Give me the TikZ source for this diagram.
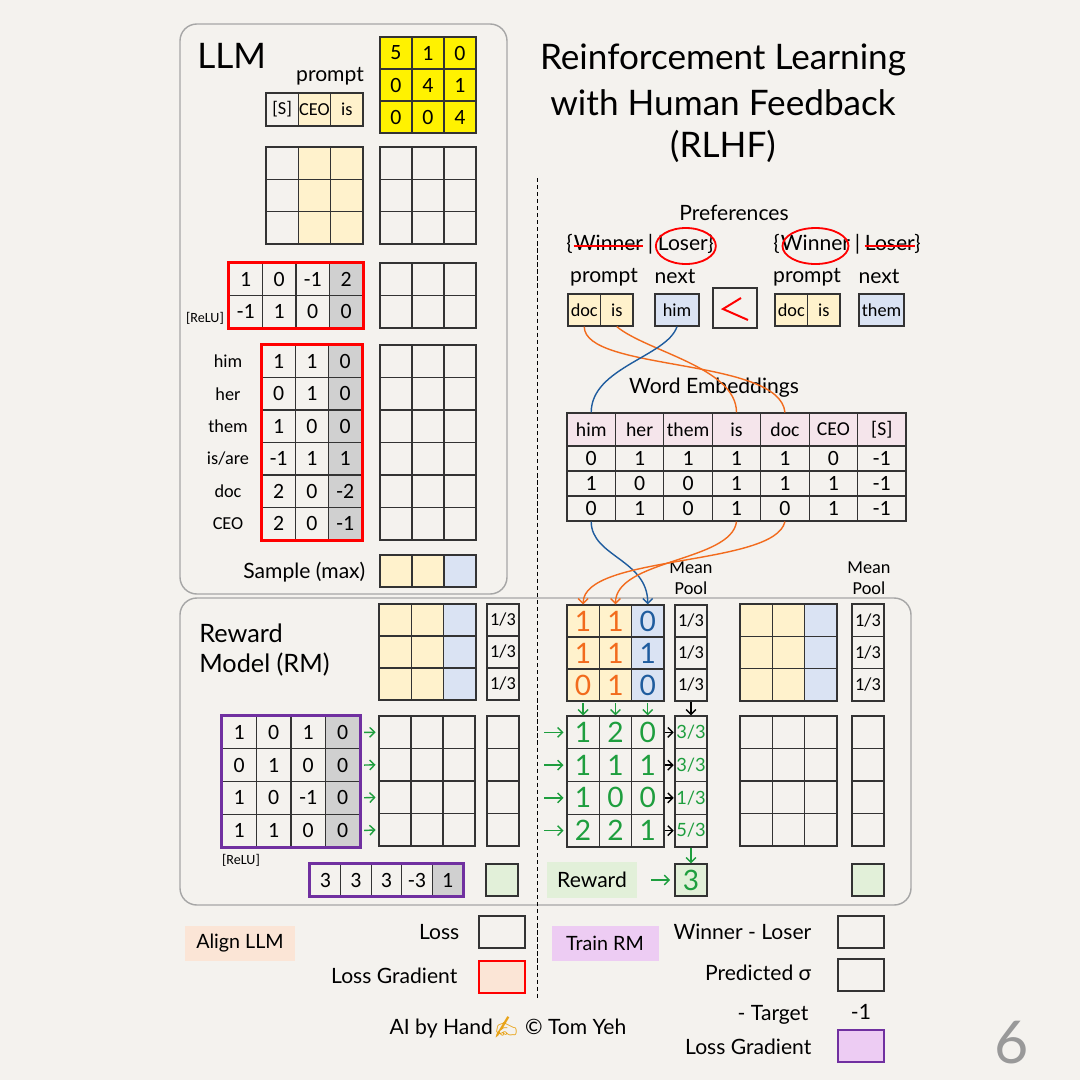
\documentclass[tikz,border=0pt]{standalone}
\usepackage{fontspec}
\setmainfont{Carlito}
\newfontfamily\hand{Lato}
\newfontfamily\emojifont{Noto Emoji}
\usetikzlibrary{arrows.meta, shapes.geometric, positioning, calc}

\definecolor{Paper}{HTML}{F4F2EE}
\definecolor{Cream}{HTML}{FFF2CC}
\definecolor{SoftBlue}{HTML}{DAE3F3}
\definecolor{CellGray}{HTML}{D0D0D0}
\definecolor{HeadPink}{HTML}{F5E5EB}
\definecolor{SoftGreen}{HTML}{E2F0D9}
\definecolor{Peach}{HTML}{FBE5D6}
\definecolor{Lilac}{HTML}{EDCCF3}
\definecolor{AlertRed}{HTML}{FF0000}
\definecolor{RMPurple}{HTML}{7030A0}
\definecolor{InkOrange}{HTML}{F26B1D}
\definecolor{InkBlue}{HTML}{1F5C9E}
\definecolor{InkGreen}{HTML}{1E9E3E}
\definecolor{PanelGray}{HTML}{A6A6A6}
\definecolor{Gold}{HTML}{E8A317}

% handwritten entries
\newcommand{\og}[1]{\textcolor{InkOrange}{#1}}
\newcommand{\bl}[1]{\textcolor{InkBlue}{#1}}

% grid of cells with values: [style]{name}{x0}{y0}{cw}{ch}{rows}
\newcommand{\cellgrid}[7][]{%
  \foreach \row [count=\ri] in {#7} {
    \foreach \v [count=\ci] in \row {
      \node[cell, minimum width=#5*0.025cm, minimum height=#6*0.025cm, #1]
        (#2-\ri-\ci) at ({#3+(\ci-0.5)*#5},{#4+(\ri-0.5)*#6}) {\v};
    }
  }
}
% empty grid: {name}{x0}{y0}{cw}{ch}{rows}{cols}
\newcommand{\emptygrid}[7]{%
  \foreach \ri in {1,...,#6} {
    \foreach \ci in {1,...,#7} {
      \node[cell, minimum width=#4*0.025cm, minimum height=#5*0.025cm]
        (#1-\ri-\ci) at ({#2+(\ci-0.5)*#4},{#3+(\ri-0.5)*#5}) {};
    }
  }
}

\begin{document}
\begin{tikzpicture}[x=0.025cm, y=-0.025cm,
    cell/.style={draw=black!80, line width=0.85pt, inner sep=0pt, font=\fontsize{15.5}{17}\selectfont},
    smallcell/.style={font=\fontsize{13}{15}\selectfont},
    fraccell/.style={font=\fontsize{13}{15}\selectfont},
    headcell/.style={font=\fontsize{14}{16}\selectfont},
    handcell/.style={font=\hand\fontsize{20}{22}\selectfont},
    lbl/.style={font=\hand\fontsize{15}{18}\selectfont, inner sep=1pt},
    brk/.style={lbl, inner sep=0pt, text height=1.5ex, text depth=0.3ex},
    headline/.style={font=\hand\fontsize{25}{30}\selectfont, inner sep=0pt},
    rmlbl/.style={font=\hand\fontsize{18}{22}\selectfont, inner sep=0pt, anchor=west},
    tiny/.style={font=\fontsize{10}{12}\selectfont},
    panel/.style={draw=PanelGray, line width=1pt, rounded corners=12pt},
    ink/.style={-{Straight Barb[length=3.5pt,width=7pt]}, line width=1pt},
    wire/.style={line width=1pt},
    thickborder/.style={line width=2.2pt},
    swatch/.style={draw=black!80, line width=0.85pt, minimum width=46*0.025cm, minimum height=32*0.025cm, inner sep=0pt},
    legendtag/.style={font=\hand\fontsize{14}{17}\selectfont, minimum height=35*0.025cm, inner sep=4pt}
  ]
  \fill[Paper] (0,0) rectangle (1080,1080);
  \useasboundingbox (0,0) rectangle (1080,1080);

  % panels and divider
  \draw[panel] (180,24) rectangle (507,594);
  \draw[panel] (180,598) rectangle (911,905);
  \draw[dash pattern=on 3pt off 2pt, line width=0.6pt] (537,178) -- (537,998);

  % title
  \node[headline] (tl1) at (723,60) {Reinforcement Learning};
  \node[headline] (tl2) at (723,103) {with Human Feedback};
  \node[headline] (tl3) at (723,146) {(RLHF)};

  % ---- LLM ----
  \node[headline, anchor=west] (llm) at (197,56) {LLM};
  \fill[yellow] (380,37) rectangle (476,133);
  \cellgrid{yw}{380}{37}{32}{32}{{5,1,0},{0,4,1},{0,0,4}}
  \node[lbl] (prlbl) at (330,76) {prompt};
  \fill[Cream] (298.3,93) rectangle (363,126);
  \cellgrid[smallcell]{tok}{266}{93}{32.3}{33}{{[S],CEO,is}}

  \fill[Cream] (298.3,147) rectangle (363,244);
  \emptygrid{xin}{266}{147}{32.3}{32.3}{3}{3}
  \emptygrid{xout}{380}{147}{32}{32.3}{3}{3}

  \fill[CellGray] (329.5,263) rectangle (363,328);
  \cellgrid{ffn}{229}{263}{33.5}{32.5}{{1,0,-1,2},{-1,1,0,0}}
  \draw[AlertRed, thickborder] (ffn-1-1.north west) rectangle (ffn-2-4.south east);
  \node[tiny] (relu1) at (205,318) {[ReLU]};
  \emptygrid{ffo}{380}{263}{32}{32.5}{2}{3}

  \fill[CellGray] (328.6,345) rectangle (362,540);
  \cellgrid{unemb}{262}{345}{33.3}{32.5}{{1,1,0},{0,1,0},{1,0,0},{-1,1,1},{2,0,-2},{2,0,-1}}
  \draw[AlertRed, thickborder] (unemb-1-1.north west) rectangle (unemb-6-3.south east);
  \foreach \w [count=\ri] in {him,her,them,is/are,doc,CEO}
    \node[smallcell] (voc-\ri) at (228,{345+(\ri-0.5)*32.5}) {\w};
  \emptygrid{logit}{380}{345}{32}{32.5}{6}{3}

  \node[lbl, anchor=east] (smp) at (367,572) {Sample (max)};
  \fill[Cream] (380,555) rectangle (444,587);
  \fill[SoftBlue] (444,555) rectangle (476,587);
  \emptygrid{smpl}{380}{555}{32}{32}{1}{3}

  % ---- preferences ----
  \node[lbl] (pref) at (734,213) {Preferences};
  \node[brk, anchor=west] (lbra) at (566,246) {\{};
  \node[brk, right=0.5pt of lbra] (lwin) {Winner};
  \node[brk, right=3pt of lwin] (lbar) {|};
  \node[brk, right=3pt of lbar] (llos) {Loser\}};
  \draw[AlertRed, line width=1.3pt] (lwin.west) -- (lwin.east);
  \draw[AlertRed, line width=1.3pt] (llos.center) ellipse [x radius=30, y radius=18];

  \node[brk, anchor=west] (rbra) at (773,246) {\{};
  \node[brk, right=0.5pt of rbra] (rwin) {Winner};
  \node[brk, right=3pt of rwin] (rbar) {|};
  \node[brk, right=3pt of rbar] (rlos) {Loser\}};
  \draw[AlertRed, line width=1.3pt] (rlos.west) -- ([xshift=-4pt]rlos.east);
  \draw[AlertRed, line width=1.3pt] (rwin.center) ellipse [x radius=33, y radius=18];

  \node[lbl] (lpl) at (604,277) {prompt};
  \node[lbl] (lnl) at (675,277) {next};
  \node[lbl] (rpl) at (807,277) {prompt};
  \node[lbl] (rnl) at (879,277) {next};

  \fill[Cream] (568,294) rectangle (633,326);
  \cellgrid[smallcell]{lp}{568}{294}{32.5}{32}{{doc,is}}
  \fill[SoftBlue] (655,294) rectangle (699,326);
  \cellgrid[smallcell]{ln}{655}{294}{44}{32}{{him}}
  \node[cell, minimum width=44*0.025cm, minimum height=40*0.025cm] (cmp) at (735,308) {};
  \draw[AlertRed, line width=1.4pt] ($(cmp.center)+(6,-10)$) -- ($(cmp.center)+(-12,1)$) -- ($(cmp.center)+(13,12)$);
  \fill[Cream] (775,294) rectangle (840,326);
  \cellgrid[smallcell]{wp}{775}{294}{32.5}{32}{{doc,is}}
  \fill[SoftBlue] (859,294) rectangle (904,326);
  \cellgrid[smallcell]{wn}{859}{294}{45}{32}{{them}}

  % ---- word embeddings ----
  \node[lbl] (wel) at (714,388) {Word Embeddings};
  \fill[HeadPink] (567,413) rectangle (906,446);
  \cellgrid[headcell]{emh}{567}{413}{48.43}{33}{{him,her,them,is,doc,CEO,[S]}}
  \cellgrid{emb}{567}{446}{48.43}{25}{{0,1,1,1,1,0,-1},{1,0,0,1,1,1,-1},{0,1,0,1,0,1,-1}}

  \draw[wire, InkOrange] (lp-1-1.south) .. controls +(0,45) and +(-5,-55) .. (emh-1-5.north);
  \draw[wire, InkOrange] (lp-1-2.south) .. controls +(30,25) and +(0,-45) .. (emh-1-4.north);
  \draw[wire, InkBlue] (ln-1-1.south) .. controls +(-10,30) and +(0,-45) .. (emh-1-1.north);

  % ---- reward model ----
  \node[rmlbl] (rml1) at (199,633) {Reward};
  \node[rmlbl] (rml2) at (199,665) {Model (RM)};

  \fill[Cream] (379,604) rectangle (443.6,700);
  \fill[SoftBlue] (443.6,604) rectangle (476,700);
  \emptygrid{ra}{379}{604}{32.3}{32}{3}{3}
  \cellgrid[fraccell]{rap}{487}{604}{32}{32}{{1/3},{1/3},{1/3}}

  \fill[Cream] (567,605) rectangle (631.6,701);
  \fill[SoftBlue] (631.6,605) rectangle (664,701);
  \cellgrid[handcell]{rt}{567}{605}{32.3}{32}{{\og1,\og1,\bl0},{\og1,\og1,\bl1},{\og0,\og1,\bl0}}
  \cellgrid[fraccell]{rtp}{675}{605}{32}{32}{{1/3},{1/3},{1/3}}
  \node[smallcell, align=center] (mpl1) at (691,578) {Mean\\Pool};

  \fill[Cream] (740,604) rectangle (804.6,701);
  \fill[SoftBlue] (804.6,604) rectangle (837,701);
  \emptygrid{ru}{740}{604}{32.3}{32.3}{3}{3}
  \cellgrid[fraccell]{rup}{852}{604}{32}{32.3}{{1/3},{1/3},{1/3}}
  \node[smallcell, align=center] (mpl2) at (869,578) {Mean\\Pool};

  \draw[ink, InkBlue] (emb-3-1.south) .. controls +(0,35) and +(0,-45) .. (rt-1-3.north);
  \draw[ink, InkOrange] (emb-3-4.south) .. controls +(-5,40) and +(0,-45) .. (rt-1-2.north);
  \draw[ink, InkOrange] (emb-3-5.south) .. controls +(-10,45) and +(0,-50) .. (rt-1-1.north);

  \fill[CellGray] (325.5,716) rectangle (360,847);
  \cellgrid{pm}{222}{716}{34.5}{32.75}{{1,0,1,0},{0,1,0,0},{1,0,-1,0},{1,1,0,0}}
  \draw[RMPurple, thickborder] (pm-1-1.north west) rectangle (pm-4-4.south east);
  \node[tiny] (relu2) at (241,860) {[ReLU]};
  \emptygrid{ea}{379}{716}{32}{32.5}{4}{3}
  \emptygrid{eac}{487}{716}{32}{32.5}{4}{1}
  \foreach \ri in {1,...,4}
    \draw[ink, InkGreen, shorten <=2.5pt, shorten >=2pt] (pm-\ri-4.east) -- (ea-\ri-1.west);

  \fill[CellGray] (432.4,864) rectangle (463,896);
  \cellgrid{pr}{310}{864}{30.6}{32}{{3,3,3,-3,1}}
  \draw[RMPurple, thickborder] (pr-1-1.north west) rectangle (pr-1-5.south east);
  \node[swatch, fill=SoftGreen, minimum width=32*0.025cm] (rg1) at (502,880) {};

  \cellgrid[handcell, text=InkGreen]{rv}{567}{716}{32.3}{32.75}{{1,2,0},{1,1,1},{1,0,0},{2,2,1}}
  \cellgrid[handcell, text=InkGreen, font=\hand\fontsize{13}{14}\selectfont]{rvc}{675}{716}{32}{32.75}{{3/3},{3/3},{1/3},{5/3}}
  \foreach \ri in {1,...,4} {
    \coordinate (gin-\ri) at ($(rv-\ri-1.west)+(-22,0)$);
    \draw[ink, InkGreen, shorten >=2pt] (gin-\ri) -- (rv-\ri-1.west);
    \draw[ink, shorten >=0.5pt] (rv-\ri-3.east) -- (rvc-\ri-1.west);
  }
  \foreach \ci in {1,2,3}
    \draw[ink, InkGreen, shorten <=1pt] (rt-3-\ci.south) -- (rv-1-\ci.north);
  \draw[ink] (rtp-3-1.south) -- (rvc-1-1.north);
  \node[cell, fill=SoftGreen, minimum size=32*0.025cm, handcell, text=InkGreen] (rwd) at (691,880) {3};
  \draw[ink, InkGreen] (rvc-4-1.south) -- (rwd.north);
  \node[lbl, fill=SoftGreen, minimum width=90*0.025cm, minimum height=36*0.025cm] (rwl) at (592,880) {Reward};
  \draw[ink, InkGreen, shorten <=10pt, shorten >=3pt] (rwl.east) -- (rwd.west);

  \emptygrid{rw}{740}{716}{32.3}{32.5}{4}{3}
  \emptygrid{rwc}{852}{716}{32}{32.5}{4}{1}
  \node[swatch, fill=SoftGreen, minimum width=32*0.025cm] (rg2) at (868,880) {};

  % ---- legends ----
  \node[legendtag, fill=Peach, minimum width=110*0.025cm] (alg) at (240,943) {Align LLM};
  \node[lbl, anchor=east] (lossl) at (461,932) {Loss};
  \node[swatch] (lossb) at (502,932) {};
  \node[lbl, anchor=east] (lgl) at (459,976) {Loss Gradient};
  \node[swatch, fill=Peach, draw=AlertRed, line width=2pt] (lgb) at (502,977) {};

  \node[legendtag, fill=Lilac, minimum width=107*0.025cm] (trm) at (605,943) {Train RM};
  \node[lbl, anchor=east] (wll) at (813,932) {Winner - Loser};
  \node[swatch] (wlb) at (861,932) {};
  \node[lbl, anchor=east] (psl) at (813,973) {Predicted σ};
  \node[swatch] (psb) at (861,975) {};
  \node[lbl, anchor=east] (tgl) at (810,1015) {- Target};
  \node[lbl] (tgv) at (861,1012) {-1};
  \node[lbl, anchor=east] (rgl) at (813,1047) {Loss Gradient};
  \node[swatch, fill=Lilac, draw=RMPurple, line width=2pt] (rgb) at (861,1046) {};

  \node[lbl] (credit) at (508,1027) {AI by Hand{\emojifont\textcolor{Gold}{✍}} © Tom Yeh};
  \node[text=gray!80, font=\hand\fontsize{42}{48}\selectfont] (pgno) at (1012,1043) {6};
\end{tikzpicture}
\end{document}
